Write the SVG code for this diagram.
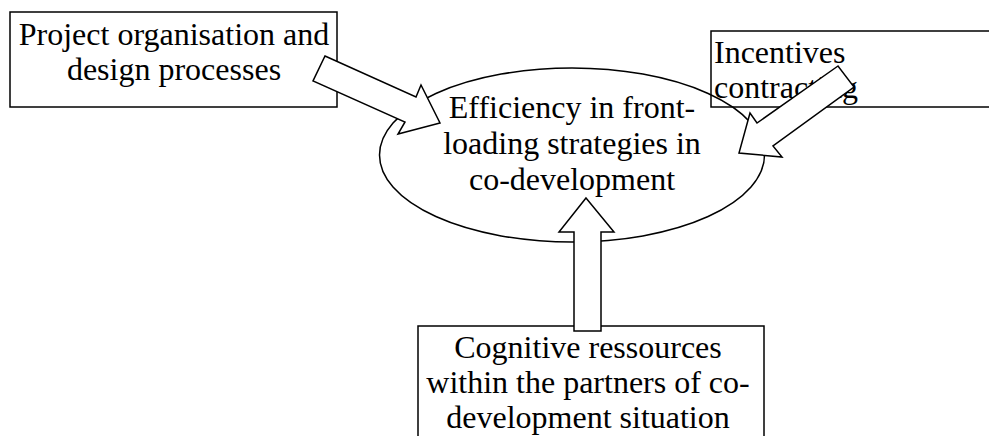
<svg xmlns="http://www.w3.org/2000/svg" width="989" height="436" viewBox="0 0 989 436">
<style>
.box{fill:#fff;stroke:#000;stroke-width:1.5}
.ell{fill:none;stroke:#000;stroke-width:1.5}
.arr{fill:#fff;stroke:#000;stroke-width:1.5;stroke-linejoin:miter}
text{font-family:"Liberation Serif","Times New Roman",serif;font-size:32px;fill:#000}
.c{text-anchor:middle}
</style>
<rect width="989" height="436" fill="#fff"/>
<g id="node-project">
<rect class="box" x="10" y="12" width="327" height="95"/>
<text class="c" x="174" y="45">Project organisation and</text>
<text class="c" x="174" y="80">design processes</text>
</g>
<g id="node-incentives">
<rect class="box" x="711" y="31" width="290" height="76"/>
<text x="714" y="63">Incentives</text>
<text x="714" y="98">contracting</text>
</g>
<g id="node-cognitive">
<rect class="box" x="418" y="326" width="346" height="120"/>
<text class="c" x="588" y="358">Cognitive ressources</text>
<text class="c" x="588" y="393">within the partners of co-</text>
<text class="c" x="588" y="428">development situation</text>
</g>
<g id="node-efficiency">
<ellipse class="ell" cx="572" cy="155" rx="192.5" ry="87"/>
<text class="c" x="572" y="118">Efficiency in front-</text>
<text class="c" x="572" y="154">loading strategies in</text>
<text class="c" x="572" y="190">co-development</text>
</g>
<g id="connectors">
<polygon class="arr" points="325,56 416,97 421,85 440,123 398,134 405,122 313,81"/>
<polygon class="arr" points="838,66 757,123 750,113 739,153 782,157 773,146 854,87"/>
<polygon class="arr" points="586,198 614,232 601,232 601,331 574,331 574,232 559,232"/>
</g>
</svg>
